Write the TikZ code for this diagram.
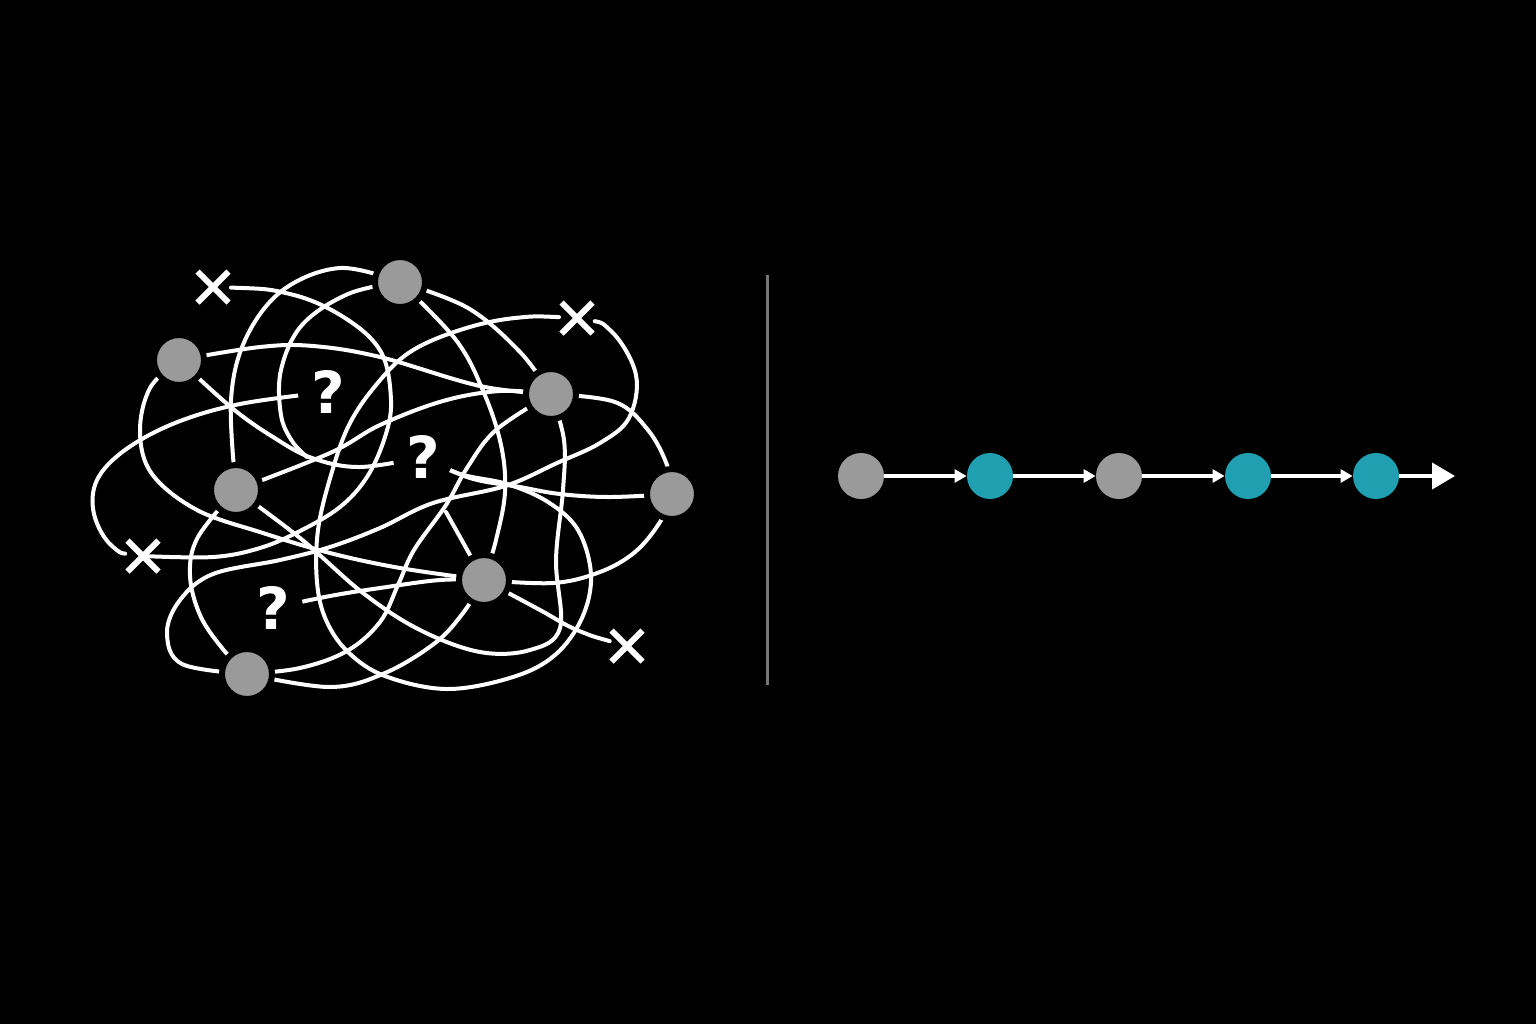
\documentclass[tikz,border=0pt]{standalone}
\usepackage{fontspec}
\newfontfamily\qfont{DejaVu Sans}
\usetikzlibrary{shapes.misc, arrows.meta}
\pgfdeclarelayer{back}
\pgfdeclarelayer{wires}
\pgfsetlayers{back,wires,main}
\definecolor{nodegray}{RGB}{154,154,154}
\definecolor{tealnode}{RGB}{31,159,176}
\definecolor{divgray}{RGB}{118,118,118}
\begin{document}
\begin{tikzpicture}[x=0.5pt,y=-0.5pt,
  wire/.style={white, line width=2pt, line cap=round, line join=round},
  fromx/.style={shorten <=9pt},
  knot/.style={circle, fill=nodegray, draw=black, line width=3pt, minimum size=25pt, inner sep=0pt},
  xmk/.style={cross out, draw=white, line width=3pt, minimum size=12.5pt, inner sep=0pt},
  qmark/.style={circle, fill=black, inner sep=0pt, minimum size=30pt, text=white,
     font=\qfont\bfseries\fontsize{29pt}{29pt}\selectfont},
  cgray/.style={circle, fill=nodegray, minimum size=23pt, inner sep=0pt},
  cteal/.style={circle, fill=tealnode, minimum size=23pt, inner sep=0pt},
  carrow/.style={white, line width=2pt, -{Triangle[length=6pt,width=6.5pt]}},
  bigarrow/.style={white, line width=2pt, -{Triangle[length=11.5pt,width=13pt]}},
  sm/.style={smooth, tension=0.6}
]
\begin{pgfonlayer}{back}
\fill[black] (0,0) rectangle (1536,1024);
\end{pgfonlayer}
\useasboundingbox (0,0) rectangle (1536,1024);

% tangle nodes
\node[knot] (n1) at (400,282) {};
\node[knot] (n2) at (179,360) {};
\node[knot] (n3) at (551,394) {};
\node[knot] (n4) at (236,490) {};
\node[knot] (n5) at (672,494) {};
\node[knot] (n6) at (484,580) {};
\node[knot] (n7) at (247,674) {};
% crosses
\node[xmk] (x1) at (213,287) {};
\node[xmk] (x2) at (577,318) {};
\node[xmk] (x3) at (143,556) {};
\node[xmk] (x4) at (627,646) {};
% question marks
\node[qmark] (q1) at (328,392) {?};
\node[qmark] (q2) at (423,457) {?};
\node[qmark] (q3) at (273,608) {?};
% free ends
\coordinate (b1) at (307,457);
\coordinate (y1) at (446,512);

\begin{pgfonlayer}{wires}
% from n1
\draw[wire] plot[sm] coordinates {(n1.center) (340,268) (283,290) (246,338) (231,400) (n4.center)};
\draw[wire] plot[sm] coordinates {(n1.center) (348,294) (302,325) (281,370) (281,415) (292,441) (b1)};
\draw[wire] plot[sm] coordinates {(n1.center) (468,308) (520,352) (n3.center)};
\draw[wire] plot[sm] coordinates {(n1.center) (456,340) (484,393) (501,445) (505,492) (496,540) (n6.center)};
% around q1 from x1 to x3
\draw[wire,fromx] plot[sm] coordinates {(x1.center) (290,294) (345,318) (381,352) (391,400) (385,437) (367,477) (340,507) (300,531) (260,548) (213,557) (x3.center)};
% left loop from x3 to q1
\draw[wire,fromx] plot[sm] coordinates {(x3.center) (112,546) (94,514) (97,480) (125,450) (175,423) (240,404) (q1.center)};
% from n2
\draw[wire] plot[sm] coordinates {(n2.center) (260,347) (313,346) (380,357) (480,386) (n3.center)};
\draw[wire] plot[sm] coordinates {(n2.center) (150,388) (140,432) (152,474) (197,510) (263,533) (330,553) (400,568) (n6.center)};
\draw[wire] plot[sm] coordinates {(n2.center) (232,408) (273,437) (312,458) (360,467) (q2.center)};
% big curve from x2 through the bottom to q2
\draw[wire,fromx] plot[sm] coordinates {(x2.center) (515,318) (460,330) (410,352) (376,385) (349,425) (331,475) (318,530) (317,582) (326,620) (348,652) (385,676) (447,689) (513,677) (555,655) (582,618) (591,575) (578,530) (548,502) (507,484) (460,474) (q2.center)};
% q2 to n5
\draw[wire] plot[sm] coordinates {(q2.center) (470,478) (520,487) (560,494) (610,497) (n5.center)};
% right loop from x2 to n7
\draw[wire,fromx] plot[sm] coordinates {(x2.center) (612,332) (636,375) (629,418) (600,443) (557,463) (505,486) (433,503) (380,528) (330,547) (280,560) (213,574) (180,600) (167,633) (182,664) (n7.center)};
% from n3 / n4
\draw[wire] plot[sm] coordinates {(n3.center) (615,402) (648,430) (667,465) (n5.center)};
\draw[wire] plot[sm] coordinates {(n4.center) (330,453) (380,425) (443,401) (500,391) (n3.center)};
\draw[wire] plot[sm] coordinates {(n4.center) (300,538) (363,593) (420,630) (480,652) (530,650) (560,628) (556,560) (563,490) (564,440) (n3.center)};
\draw[wire] plot[sm] coordinates {(n4.center) (198,537) (190,575) (200,615) (222,648) (n7.center)};
\draw[wire] plot[sm] coordinates {(n3.center) (496,430) (467,468) (446,505) (414,550) (398,585) (380,622) (347,651) (300,668) (n7.center)};
% from n6
\draw[wire] plot[sm] coordinates {(q3.center) (330,596) (380,588) (440,580) (n6.center)};
\draw[wire] plot[sm] coordinates {(n6.center) (463,613) (435,643) (385,673) (330,687) (n7.center)};
\draw[wire] plot[sm] coordinates {(n6.center) (553,583) (600,572) (635,552) (660,522) (n5.center)};
\draw[wire,fromx] plot[sm] coordinates {(x4.center) (577,630) (540,610) (n6.center)};
\draw[wire] (n6.center) -- (y1);
\end{pgfonlayer}

% divider
\coordinate (dtop) at (767,275);
\coordinate (dbot) at (767,685);
\draw[divgray, line width=1.5pt] (dtop) -- (dbot);

% chain
\node[cgray] (c1) at (861,476) {};
\node[cteal] (c2) at (990,476) {};
\node[cgray] (c3) at (1119,476) {};
\node[cteal] (c4) at (1248,476) {};
\node[cteal] (c5) at (1376,476) {};
\coordinate (cend) at (1455,476);
\draw[carrow] (c1) -- (c2);
\draw[carrow] (c2) -- (c3);
\draw[carrow] (c3) -- (c4);
\draw[carrow] (c4) -- (c5);
\draw[bigarrow] (c5) -- (cend);
\end{tikzpicture}
\end{document}
